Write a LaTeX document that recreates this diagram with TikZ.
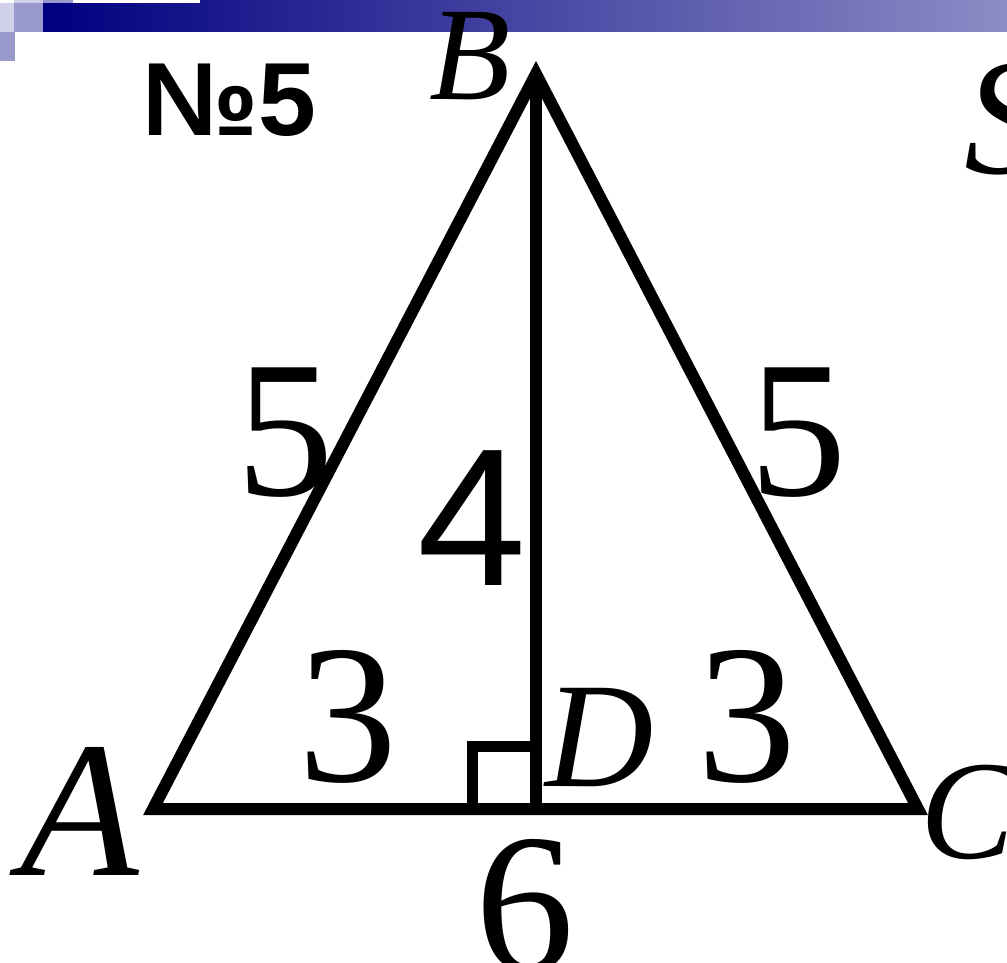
\documentclass[tikz,border=0pt]{standalone}
\usepackage{fontspec}
\setmainfont{Liberation Serif}
\newfontfamily\arialf{Liberation Sans}
\definecolor{navyL}{HTML}{000080}
\definecolor{navyR}{HTML}{8C8CC6}
\definecolor{sqlight}{HTML}{D0D0E8}
\definecolor{sqmid}{HTML}{9999CC}
\tikzset{
  edge/.style={line width=12pt, line join=miter},
  rightmark/.style={line width=11pt, line join=miter},
  vlabel/.style={inner sep=0pt, anchor=base west},
  numlabel/.style={inner sep=0pt, anchor=base},
}
\begin{document}
\begin{tikzpicture}[x=1pt,y=-1pt]
\useasboundingbox (0,0) rectangle (1007,963);
% header bar and squares
\shade[left color=navyL, right color=navyR] (43,0) rectangle (1007,32);
\fill[white] (73,0) rectangle (200,3);
\fill[sqlight] (14,0) rectangle (43,3);
\fill[sqlight] (0,3) rectangle (14,32);
\fill[sqmid] (43,0) rectangle (73,3);
\fill[sqmid] (14,3) rectangle (43,32);
\fill[sqmid] (0,32) rectangle (15,61);
% title
\node[vlabel] (title) at (142,136) {\arialf\bfseries\fontsize{104}{104}\selectfont №5};
% geometry
\coordinate (A) at (153,809);
\coordinate (B) at (536,74);
\coordinate (C) at (918,809);
\coordinate (D) at (536,809);
\draw[edge] (A) -- (B) -- (C) -- cycle;
\draw[edge] (B) -- (D);
\draw[rightmark] (472,809) -- (472,746) -- (D |- 0,746);
% vertex labels
\node[vlabel] (lA) at (20,875) {\fontsize{194}{194}\selectfont\itshape A};
\node[vlabel] (lB) at (429,100) {\fontsize{133}{133}\selectfont\itshape B};
\node[vlabel] (lC) at (920,858) {\fontsize{141}{141}\selectfont\itshape C};
\node[vlabel] (lD) at (545,786) {\fontsize{150}{150}\selectfont\itshape D};
\node[vlabel] (lS) at (964,174) {\fontsize{166}{166}\selectfont\itshape S};
% numbers
\node[numlabel] (n5l) at (285,495) {\fontsize{195}{195}\selectfont 5};
\node[numlabel] (n5r) at (798,495) {\fontsize{195}{195}\selectfont 5};
\node[numlabel] (n4) at (472,585) {\arialf\fontsize{196}{196}\selectfont 4};
\node[numlabel] (n3l) at (348,781) {\fontsize{198}{198}\selectfont 3};
\node[numlabel] (n3r) at (747,781) {\fontsize{198}{198}\selectfont 3};
\node[numlabel] (n6) at (525,970) {\fontsize{198}{198}\selectfont 6};
\end{tikzpicture}
\end{document}
